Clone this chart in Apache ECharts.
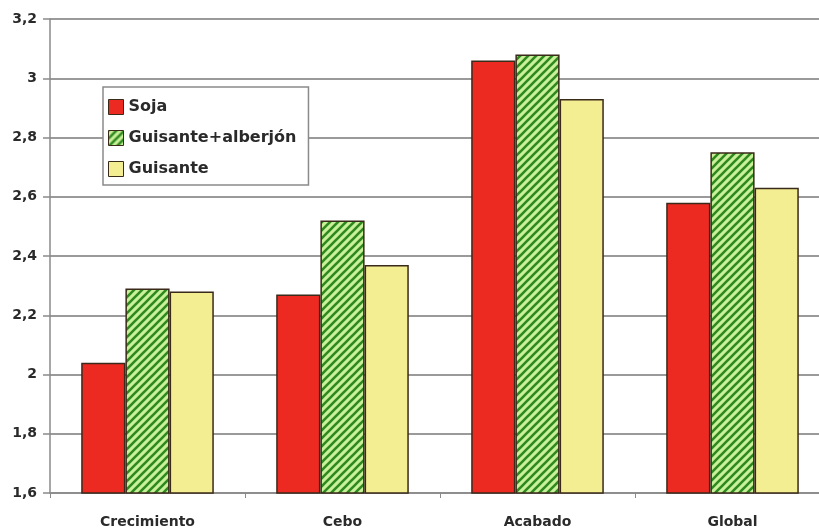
<!DOCTYPE html>
<html>
<head>
<meta charset="utf-8">
<script src="https://cdn.jsdelivr.net/npm/echarts@6/dist/echarts.min.js"></script>
<style>
  html, body { margin: 0; padding: 0; background: #ffffff; overflow: hidden; }
  #chart { width: 830px; height: 532px; }
</style>
</head>
<body>
<div id="chart"></div>
<script>
const categories = ['Crecimiento', 'Cebo', 'Acabado', 'Global'];
const seriesNames = ['Soja', 'Guisante+alberjón', 'Guisante'];
const soja = [2.04, 2.27, 3.06, 2.58];
const guisanteAlberjon = [2.29, 2.52, 3.08, 2.75];
const guisante = [2.28, 2.37, 2.93, 2.63];
const yMin = 1.6, yMax = 3.2, yStep = 0.2;

// diagonal hatch fill for the mixed-pea series
function hatchPattern() {
  const size = 8;
  const c = document.createElement('canvas');
  c.width = size; c.height = size;
  const ctx = c.getContext('2d');
  ctx.fillStyle = '#c9f09a';
  ctx.fillRect(0, 0, size, size);
  ctx.strokeStyle = '#2f8a1e';
  ctx.lineWidth = 2.6;
  ctx.beginPath();
  for (let k = -1; k <= 1; k++) {
    ctx.moveTo(k * size - 1, size + 1);
    ctx.lineTo(k * size + size + 1, -1);
  }
  ctx.stroke();
  return c;
}

const font = '"DejaVu Sans", Verdana, sans-serif';
const border = { borderColor: '#3a2a1a', borderWidth: 1.5 };

const chart = echarts.init(document.getElementById('chart'), null, { renderer: 'canvas' });
chart.setOption({
  backgroundColor: '#ffffff',
  animation: false,
  grid: { left: 50, top: 19, bottom: 39, right: 0, containLabel: false },
  legend: {
    orient: 'vertical',
    left: 103,
    top: 87,
    padding: [12, 12, 8, 5],
    itemGap: 15,
    itemWidth: 15,
    itemHeight: 15,
    itemStyle: { borderColor: '#3a2a1a', borderWidth: 1 },
    icon: 'rect',
    backgroundColor: '#ffffff',
    borderColor: '#8a8a8a',
    borderWidth: 1.5,
    textStyle: { fontFamily: font, fontWeight: 'bold', fontSize: 16, lineHeight: 16, color: '#2a2a2a' },
    data: seriesNames
  },
  xAxis: {
    type: 'category',
    data: categories,
    axisLine: { lineStyle: { color: '#8a8a8a', width: 1.5 } },
    axisTick: { show: true, length: 5, lineStyle: { color: '#8a8a8a' } },
    axisLabel: { fontFamily: font, fontWeight: 'bold', fontSize: 14, color: '#2a2a2a', margin: 22 }
  },
  yAxis: {
    type: 'value',
    min: yMin,
    max: yMax,
    interval: yStep,
    axisLine: { show: true, lineStyle: { color: '#8a8a8a', width: 1.5 } },
    axisTick: { show: true, length: 7, lineStyle: { color: '#8a8a8a', width: 1.5 } },
    splitLine: { lineStyle: { color: '#9a9a9a', width: 1.8 } },
    axisLabel: {
      fontFamily: font, fontWeight: 'bold', fontSize: 14, color: '#2a2a2a', margin: 13,
      formatter: v => (Math.round(v * 10) / 10).toString().replace('.', ',')
    }
  },
  series: [
    { name: seriesNames[0], type: 'bar', data: soja, barGap: '0%', barCategoryGap: '32%',
      itemStyle: Object.assign({ color: '#ec2a22' }, border) },
    { name: seriesNames[1], type: 'bar', data: guisanteAlberjon, barGap: '0%', barCategoryGap: '32%',
      itemStyle: Object.assign({ color: { image: hatchPattern(), repeat: 'repeat' } }, border) },
    { name: seriesNames[2], type: 'bar', data: guisante, barGap: '0%', barCategoryGap: '32%',
      itemStyle: Object.assign({ color: '#f4ee92' }, border) }
  ]
});
</script>
</body>
</html>
